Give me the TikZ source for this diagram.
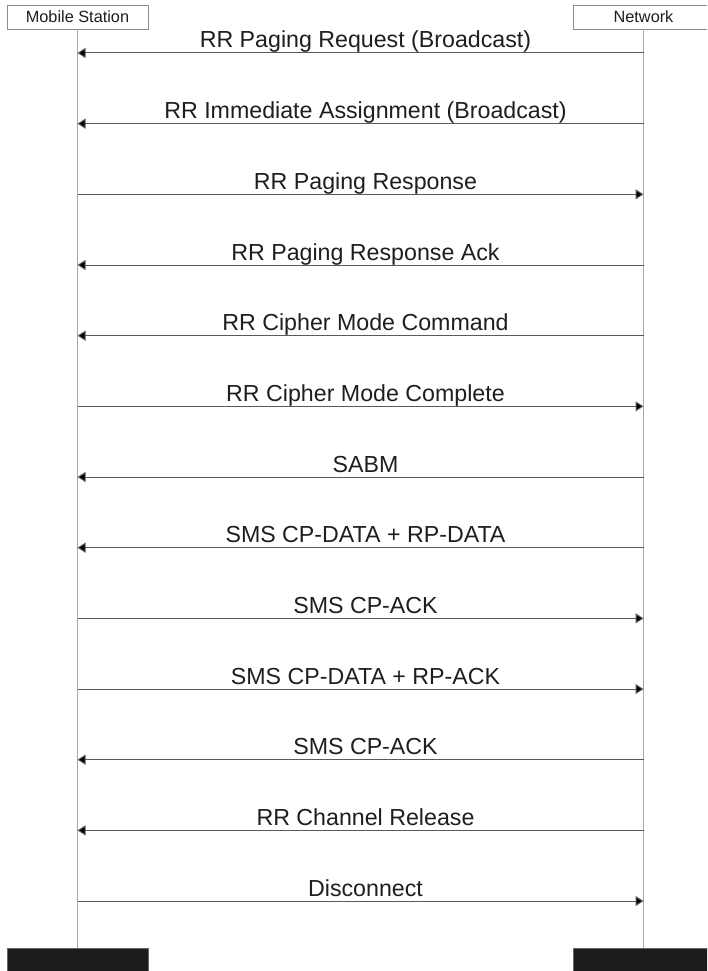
\documentclass[tikz,border=0pt]{standalone}
\usepackage{fontspec}
\setmainfont{Liberation Sans}
\usetikzlibrary{arrows.meta}
\definecolor{lifeg}{HTML}{A8A8A8}
\definecolor{msgg}{HTML}{5A5A5A}
\definecolor{txtc}{HTML}{1E1E1E}
\definecolor{blk}{HTML}{1C1C1C}
\begin{document}
\begin{tikzpicture}[x=1pt,y=-1pt,
  headbox/.style={draw=black!45,line width=0.8pt,fill=white,minimum width=141pt,minimum height=24pt,inner sep=0pt,font=\fontsize{16.3}{17}\selectfont,text=txtc},
  footbox/.style={draw=black!60,fill=blk,minimum width=141pt,minimum height=40pt,inner sep=0pt},
  lifeline/.style={draw=lifeg,line width=1.4pt},
  msg/.style={draw=msgg,line width=1pt,-{Triangle[length=8pt,width=10pt,fill=black]}},
  lbl/.style={font=\fontsize{23.2}{25}\selectfont,text=txtc,anchor=base,inner sep=0pt,yshift=5pt,xshift=5pt}]
\useasboundingbox (0,0) rectangle (707,971);
\clip (0,0) rectangle (707,971);
\node[headbox] (ms) at (77.5,17) {Mobile Station};
\node[headbox] (nw) at (643.5,17) {Network};
\node[footbox] (msf) at (77.5,968) {};
\node[footbox] (nwf) at (643.5,968) {};
\draw[lifeline] (ms.south) -- (msf.north);
\draw[lifeline] (nw.south) -- (nwf.north);
\foreach \i in {1,...,13}{
  \pgfmathsetmacro{\yy}{53+70.67*(\i-1)}
  \coordinate (m\i) at (77.5,\yy);
  \coordinate (n\i) at (643.5,\yy);
}
\draw[msg] (n1) -- node[lbl,pos=0.5] (t1) {RR Paging Request (Broadcast)} (m1);
\draw[msg] (n2) -- node[lbl,pos=0.5] (t2) {RR Immediate Assignment (Broadcast)} (m2);
\draw[msg] (m3) -- node[lbl,pos=0.5] (t3) {RR Paging Response} (n3);
\draw[msg] (n4) -- node[lbl,pos=0.5] (t4) {RR Paging Response Ack} (m4);
\draw[msg] (n5) -- node[lbl,pos=0.5] (t5) {RR Cipher Mode Command} (m5);
\draw[msg] (m6) -- node[lbl,pos=0.5] (t6) {RR Cipher Mode Complete} (n6);
\draw[msg] (n7) -- node[lbl,pos=0.5] (t7) {SABM} (m7);
\draw[msg] (n8) -- node[lbl,pos=0.5] (t8) {SMS CP-DATA + RP-DATA} (m8);
\draw[msg] (m9) -- node[lbl,pos=0.5] (t9) {SMS CP-ACK} (n9);
\draw[msg] (m10) -- node[lbl,pos=0.5] (t10) {SMS CP-DATA + RP-ACK} (n10);
\draw[msg] (n11) -- node[lbl,pos=0.5] (t11) {SMS CP-ACK} (m11);
\draw[msg] (n12) -- node[lbl,pos=0.5] (t12) {RR Channel Release} (m12);
\draw[msg] (m13) -- node[lbl,pos=0.5] (t13) {Disconnect} (n13);
\end{tikzpicture}
\end{document}
